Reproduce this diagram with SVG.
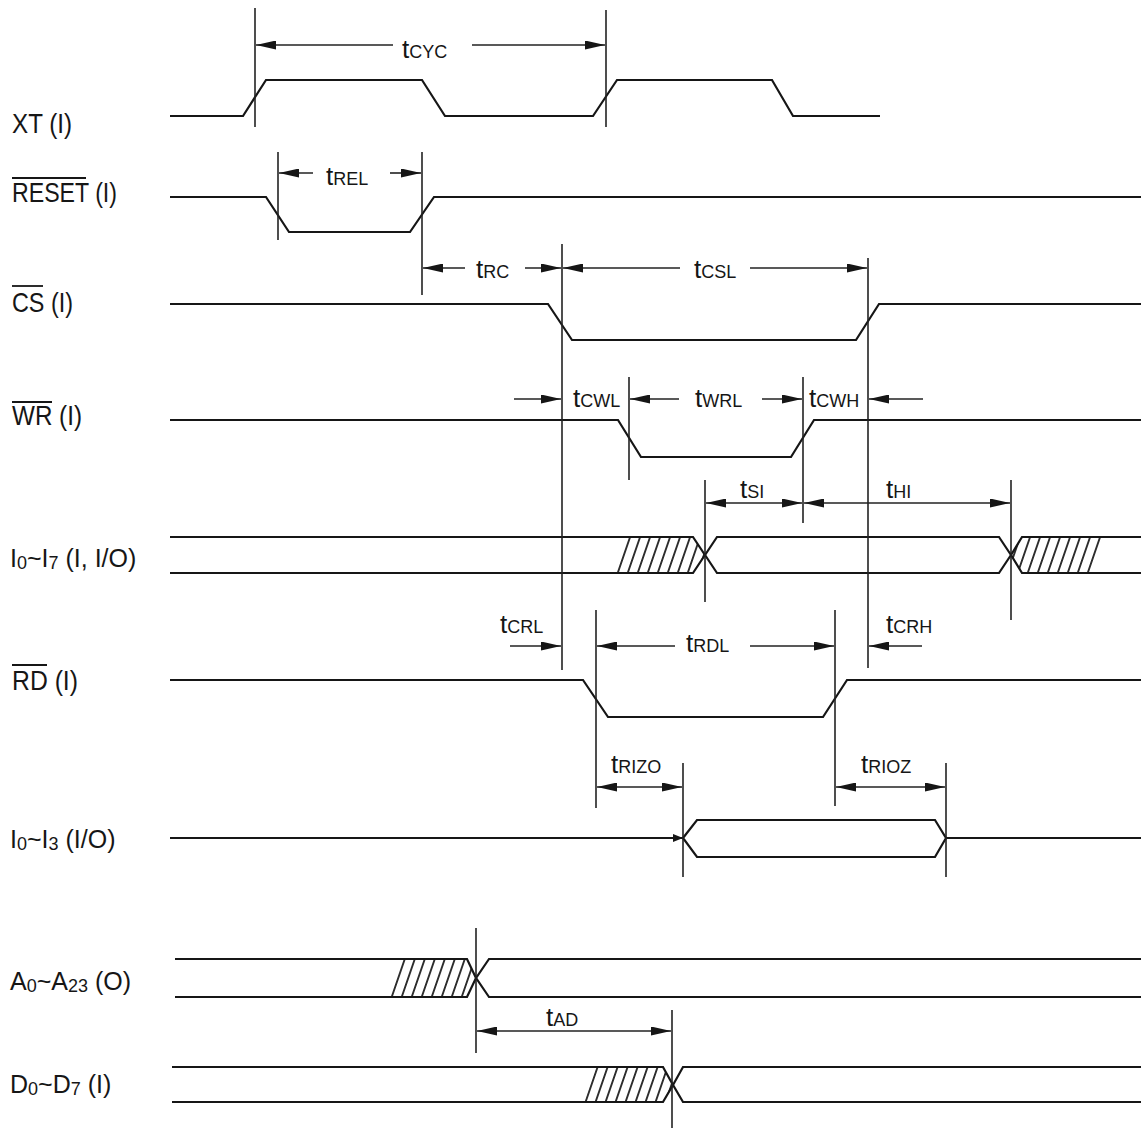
<svg xmlns="http://www.w3.org/2000/svg" width="1141" height="1128" viewBox="0 0 1141 1128">
<style>
.sig{fill:none;stroke:#161616;stroke-width:2.2;stroke-linejoin:miter}
.ref{fill:none;stroke:#222;stroke-width:1.6}
.dim{fill:none;stroke:#222;stroke-width:1.6;marker-end:url(#ah)}
.lbl{font-family:"Liberation Sans Narrow","Liberation Sans",Arial,sans-serif;font-size:28px;fill:#161616}
.lb2{font-family:"Liberation Sans Narrow","Liberation Sans",Arial,sans-serif;font-size:25px;fill:#161616}
.sn{font-size:18px}
.tl{font-family:"Liberation Sans Narrow","Liberation Sans",Arial,sans-serif;font-size:26px;fill:#161616}
.ts{font-size:18px}
.ov{stroke:#161616;stroke-width:1.8}
.hat{fill:url(#hatch);stroke:none}
</style>
<defs>
<marker id="ah" markerUnits="userSpaceOnUse" markerWidth="20" markerHeight="9" refX="20" refY="4.5" orient="auto">
<path d="M0,0 L20,4.5 L0,9 z" fill="#161616"/>
</marker>
<pattern id="hatch" patternUnits="userSpaceOnUse" width="10" height="10" patternTransform="skewX(-19)">
<line x1="5" y1="-1" x2="5" y2="11" stroke="#161616" stroke-width="1.8"/>
</pattern>
</defs>
<rect width="1141" height="1128" fill="#ffffff"/>

<g id="labels">
<text class="lbl" x="12" y="133" textLength="60" lengthAdjust="spacingAndGlyphs">XT (I)</text>
<text class="lbl" x="12" y="202" textLength="105" lengthAdjust="spacingAndGlyphs">RESET (I)</text>
<line class="ov" x1="12" y1="178" x2="86" y2="178"/>
<text class="lbl" x="12" y="312" textLength="61" lengthAdjust="spacingAndGlyphs">CS (I)</text>
<line class="ov" x1="12" y1="286" x2="43" y2="286"/>
<text class="lbl" x="12" y="425" textLength="70" lengthAdjust="spacingAndGlyphs">WR (I)</text>
<line class="ov" x1="12" y1="402" x2="52" y2="402"/>
<text class="lb2" x="10" y="567">I<tspan class="sn" dy="2">0</tspan><tspan dy="-2">~I</tspan><tspan class="sn" dy="2">7</tspan><tspan dy="-2"> (I, I/O)</tspan></text>
<text class="lbl" x="12" y="690" textLength="66" lengthAdjust="spacingAndGlyphs">RD (I)</text>
<line class="ov" x1="12" y1="665" x2="47" y2="665"/>
<text class="lb2" x="10" y="848">I<tspan class="sn" dy="2">0</tspan><tspan dy="-2">~I</tspan><tspan class="sn" dy="2">3</tspan><tspan dy="-2"> (I/O)</tspan></text>
<text class="lb2" x="10" y="990">A<tspan class="sn" dy="2">0</tspan><tspan dy="-2">~A</tspan><tspan class="sn" dy="2">23</tspan><tspan dy="-2"> (O)</tspan></text>
<text class="lb2" x="10" y="1093">D<tspan class="sn" dy="2">0</tspan><tspan dy="-2">~D</tspan><tspan class="sn" dy="2">7</tspan><tspan dy="-2"> (I)</tspan></text>
</g>

<g id="sig-xt"><path class="sig" d="M170,116 H243 L266,80 H422 L445,116 H593 L617,80 H772 L793,116 H880"/></g>
<g id="sig-reset"><path class="sig" d="M170,197 H266 L289,232 H410 L434,197 H1141"/></g>
<g id="sig-cs"><path class="sig" d="M170,304 H548 L572,340 H856 L879,304 H1141"/></g>
<g id="sig-wr"><path class="sig" d="M170,420 H618 L641,457 H791 L814,420 H1141"/></g>
<g id="sig-i07">
<polygon class="hat" points="613,573 625,537 693,537 705,555 693,573"/>
<polygon class="hat" points="1011,555 1022,537 1106,537 1094,573 1022,573"/>
<path class="sig" d="M170,537 H693 L705,555 L717,537 H999 L1011,555 L1022,537 H1141"/>
<path class="sig" d="M170,573 H693 L705,555 L717,573 H999 L1011,555 L1022,573 H1141"/>
</g>
<g id="sig-rd"><path class="sig" d="M170,680 H583 L608,717 H823 L847,680 H1141"/></g>
<g id="sig-i03">
<path class="sig" d="M170,838 H683"/>
<path d="M673,834 L683,838 L673,842 z" fill="#161616"/>
<path class="sig" d="M683,838 L697,820 H935 L946,838 L935,857 H697 Z"/>
<path class="sig" d="M946,838 H1141"/>
</g>
<g id="sig-a">
<polygon class="hat" points="386,997 398,959 467,959 476,978 467,997"/>
<path class="sig" d="M175,959 H467 L476,978 L489,959 H1141"/>
<path class="sig" d="M175,997 H467 L476,978 L489,997 H1141"/>
</g>
<g id="sig-d">
<polygon class="hat" points="584,1102 596,1067 663,1067 673,1085 663,1102"/>
<path class="sig" d="M172,1067 H663 L673,1085 L683,1067 H1141"/>
<path class="sig" d="M172,1102 H663 L673,1085 L683,1102 H1141"/>
</g>

<g id="connectors">
<line class="ref" x1="255" y1="8" x2="255" y2="127"/>
<line class="ref" x1="606" y1="10" x2="606" y2="127"/>
<line class="ref" x1="278" y1="152" x2="278" y2="240"/>
<line class="ref" x1="422" y1="152" x2="422" y2="295"/>
<line class="ref" x1="562" y1="244" x2="562" y2="670"/>
<line class="ref" x1="868" y1="258" x2="868" y2="668"/>
<line class="ref" x1="629" y1="377" x2="629" y2="480"/>
<line class="ref" x1="803" y1="377" x2="803" y2="523"/>
<line class="ref" x1="705" y1="480" x2="705" y2="602"/>
<line class="ref" x1="1011" y1="480" x2="1011" y2="620"/>
<line class="ref" x1="596" y1="610" x2="596" y2="808"/>
<line class="ref" x1="835" y1="610" x2="835" y2="806"/>
<line class="ref" x1="683" y1="763" x2="683" y2="877"/>
<line class="ref" x1="946" y1="763" x2="946" y2="877"/>
<line class="ref" x1="476" y1="928" x2="476" y2="1053"/>
<line class="ref" x1="672" y1="1010" x2="672" y2="1128"/>

<line class="dim" x1="393" y1="45" x2="256" y2="45"/>
<line class="dim" x1="472" y1="45" x2="605" y2="45"/>
<line class="dim" x1="313" y1="173" x2="279" y2="173"/>
<line class="dim" x1="390" y1="173" x2="421" y2="173"/>
<line class="dim" x1="465" y1="268" x2="423" y2="268"/>
<line class="dim" x1="525" y1="268" x2="561" y2="268"/>
<line class="dim" x1="680" y1="268" x2="563" y2="268"/>
<line class="dim" x1="750" y1="268" x2="867" y2="268"/>
<line class="dim" x1="514" y1="399" x2="561" y2="399"/>
<line class="dim" x1="679" y1="399" x2="630" y2="399"/>
<line class="dim" x1="762" y1="399" x2="802" y2="399"/>
<line class="dim" x1="923" y1="399" x2="869" y2="399"/>
<line class="dim" x1="755" y1="503" x2="706" y2="503"/>
<line class="dim" x1="755" y1="503" x2="802" y2="503"/>
<line class="dim" x1="900" y1="503" x2="804" y2="503"/>
<line class="dim" x1="900" y1="503" x2="1010" y2="503"/>
<line class="dim" x1="510" y1="646" x2="561" y2="646"/>
<line class="dim" x1="675" y1="646" x2="597" y2="646"/>
<line class="dim" x1="750" y1="646" x2="834" y2="646"/>
<line class="dim" x1="922" y1="646" x2="869" y2="646"/>
<line class="dim" x1="640" y1="787" x2="597" y2="787"/>
<line class="dim" x1="640" y1="787" x2="682" y2="787"/>
<line class="dim" x1="890" y1="787" x2="836" y2="787"/>
<line class="dim" x1="890" y1="787" x2="945" y2="787"/>
<line class="dim" x1="570" y1="1031" x2="477" y2="1031"/>
<line class="dim" x1="570" y1="1031" x2="671" y2="1031"/>
</g>

<g id="timing-labels">
<text class="tl" x="402" y="58">t<tspan class="ts">CYC</tspan></text>
<text class="tl" x="326" y="185">t<tspan class="ts">REL</tspan></text>
<text class="tl" x="476" y="278">t<tspan class="ts">RC</tspan></text>
<text class="tl" x="694" y="278">t<tspan class="ts">CSL</tspan></text>
<text class="tl" x="573" y="407">t<tspan class="ts">CWL</tspan></text>
<text class="tl" x="695" y="407">t<tspan class="ts">WRL</tspan></text>
<text class="tl" x="809" y="407">t<tspan class="ts">CWH</tspan></text>
<text class="tl" x="740" y="498">t<tspan class="ts">SI</tspan></text>
<text class="tl" x="886" y="498">t<tspan class="ts">HI</tspan></text>
<text class="tl" x="500" y="633">t<tspan class="ts">CRL</tspan></text>
<text class="tl" x="686" y="652">t<tspan class="ts">RDL</tspan></text>
<text class="tl" x="886" y="633">t<tspan class="ts">CRH</tspan></text>
<text class="tl" x="611" y="773">t<tspan class="ts">RIZO</tspan></text>
<text class="tl" x="861" y="773">t<tspan class="ts">RIOZ</tspan></text>
<text class="tl" x="546" y="1026">t<tspan class="ts">AD</tspan></text>
</g>
</svg>
